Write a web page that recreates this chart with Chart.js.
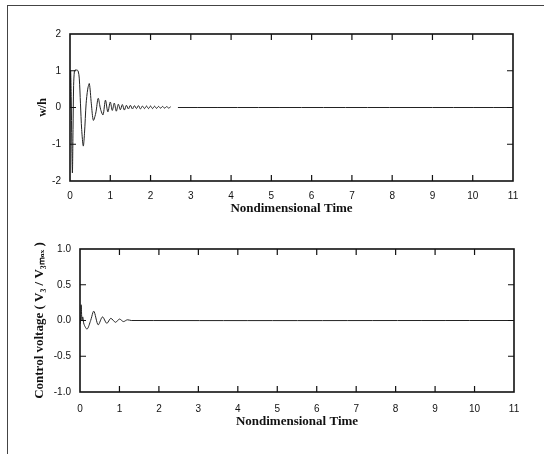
<!DOCTYPE html>
<html>
<head>
<meta charset="utf-8">
<script src="https://cdn.jsdelivr.net/npm/chart.js@4"></script>
<style>
  html, body { margin: 0; padding: 0; background: #fff; }
  #page { position: relative; width: 544px; height: 456px; overflow: hidden; }
  #frame { position: absolute; left: 7px; top: 5px; width: 560px; height: 448px;
           border-top: 1px solid #444; border-left: 1px solid #444; }
  .box { position: absolute; left: 0; width: 544px; height: 228px; }
</style>
</head>
<body>
<div id="page">
  <div id="frame"></div>
  <div class="box" style="top:0"><canvas id="top"></canvas></div>
  <div class="box" style="top:228px"><canvas id="bottom"></canvas></div>
</div>
<script>
// top panel: w/h against nondimensional time (null = gap in the trace)
const wTime = [0, 0.015, 0.03, 0.045, 0.06, 0.075, 0.09, 0.11, 0.13, 0.16, 0.2, 0.23, 0.26, 0.29,
  0.33, 0.36, 0.4, 0.44, 0.48, 0.53, 0.58, 0.64, 0.7, 0.76, 0.82, 0.88, 0.94, 1.0, 1.05, 1.1,
  1.15, 1.2, 1.25, 1.3, 1.35, 1.4, 1.45, 1.5, 1.55, 1.6, 1.65, 1.7, 1.75, 1.8, 1.85, 1.9, 1.95,
  2.0, 2.05, 2.1, 2.15, 2.2, 2.25, 2.3, 2.35, 2.4, 2.45, 2.5, 2.55, 2.68, 11];
const wH = [0, 1.0, 0.3, -1.0, -1.78, -0.6, 0.6, 1.0, 1.02, 1.02, 1.0, 0.8, 0.1, -0.6,
  -1.05, -0.7, 0.1, 0.5, 0.65, 0.1, -0.35, -0.15, 0.25, -0.05, -0.2, 0.2, -0.12, 0.15, -0.08, 0.12,
  -0.1, 0.09, -0.06, 0.08, -0.07, 0.06, -0.04, 0.06, -0.04, 0.05, -0.03, 0.05, -0.04, 0.04, -0.03, 0.04, -0.03,
  0.04, -0.03, 0.035, -0.025, 0.03, -0.02, 0.03, -0.02, 0.025, -0.015, 0.02, null, 0, 0];

// bottom panel: control voltage V3 / V3max
const vTime = [0, 0.02, 0.03, 0.05, 0.07, 0.1, 0.18, 0.27, 0.35, 0.46, 0.57, 0.68, 0.78,
  0.9, 1.0, 1.1, 1.2, 1.3, 11];
const vRatio = [-0.05, 0.05, 0.22, 0.0, 0.05, -0.05, -0.12, 0.0, 0.13, -0.06, 0.05, -0.04, 0.03,
  -0.025, 0.02, -0.015, 0.01, 0, 0];

const xTicks = [0, 1, 2, 3, 4, 5, 6, 7, 8, 9, 10, 11];
const wTicks = [-2, -1, 0, 1, 2];
const vTicks = [-1, -0.5, 0, 0.5, 1];

// closed box with inward tick marks on all four sides
const boxPlugin = {
  id: 'boxTicks',
  afterDraw(chart) {
    const { ctx, chartArea: a, scales: { x, y } } = chart;
    const len = 6;
    ctx.save();
    ctx.strokeStyle = '#111';
    ctx.lineWidth = 1.2;
    x.ticks.forEach(t => {
      if (t.value <= x.min || t.value >= x.max) return;
      const px = x.getPixelForValue(t.value);
      ctx.beginPath();
      ctx.moveTo(px, a.bottom); ctx.lineTo(px, a.bottom - len);
      ctx.moveTo(px, a.top); ctx.lineTo(px, a.top + len);
      ctx.stroke();
    });
    y.ticks.forEach(t => {
      if (t.value <= y.min || t.value >= y.max) return;
      const py = y.getPixelForValue(t.value);
      ctx.beginPath();
      ctx.moveTo(a.left, py); ctx.lineTo(a.left + len, py);
      ctx.moveTo(a.right, py); ctx.lineTo(a.right - len, py);
      ctx.stroke();
    });
    ctx.lineWidth = 1.6;
    ctx.strokeRect(a.left, a.top, a.right - a.left, a.bottom - a.top);
    ctx.restore();
  }
};

function makePanel(id, times, values, yTicks, cfg) {
  return new Chart(document.getElementById(id), {
    type: 'line',
    data: {
      datasets: [{
        data: times.map((t, i) => ({ x: t, y: values[i] })),
        borderColor: '#222',
        borderWidth: 1,
        pointRadius: 0,
        tension: 0.3,
        spanGaps: false
      }]
    },
    options: {
      responsive: false,
      animation: false,
      events: [],
      layout: { padding: { left: 0, right: cfg.right, top: cfg.top, bottom: 0 } },
      plugins: { legend: { display: false }, tooltip: { enabled: false } },
      scales: {
        x: {
          type: 'linear', min: 0, max: 11,
          afterBuildTicks: s => { s.ticks = xTicks.map(v => ({ value: v })); },
          afterFit: s => { s.height = cfg.xHeight; },
          grid: { display: false, drawTicks: false },
          border: { display: false },
          ticks: { padding: cfg.xTickPad, color: '#111', font: { family: 'Liberation Sans', size: 10 } },
          title: { display: true, text: 'Nondimensional Time', color: '#111',
                   padding: { top: 0, bottom: cfg.xTitlePad },
                   font: { family: 'Liberation Serif', size: 13, weight: 'bold' } }
        },
        y: {
          type: 'linear', min: yTicks[0], max: yTicks[yTicks.length - 1],
          afterBuildTicks: s => { s.ticks = yTicks.map(v => ({ value: v })); },
          afterFit: s => { s.width = cfg.yWidth; },
          grid: { display: false, drawTicks: false },
          border: { display: false },
          ticks: { padding: 9, color: '#111', font: { family: 'Liberation Sans', size: 10 },
                   callback: cfg.yLabel },
          title: { display: true, text: cfg.yTitle, color: '#111',
                   padding: { top: cfg.yTitlePad, bottom: 0 },
                   font: { family: 'Liberation Serif', size: cfg.yTitleSize, weight: 'bold' } }
        }
      }
    },
    plugins: [boxPlugin]
  });
}

for (const id of ['top', 'bottom']) {
  const c = document.getElementById(id);
  c.width = 544; c.height = 228;
}

makePanel('top', wTime, wH, wTicks, {
  top: 34, right: 31, xHeight: 47, yWidth: 70, xTickPad: 9, xTitlePad: 12,
  yTitle: 'w/h', yTitlePad: 36, yTitleSize: 12,
  yLabel: v => String(v)
});

makePanel('bottom', vTime, vRatio, vTicks, {
  top: 21, right: 30, xHeight: 64, yWidth: 80, xTickPad: 11, xTitlePad: 27,
  yTitle: 'Control voltage ( V\u2083 / V\u2083\u2098\u2090\u2093 )', yTitlePad: 32, yTitleSize: 13,
  yLabel: v => v.toFixed(1)
});
</script>
</body>
</html>
